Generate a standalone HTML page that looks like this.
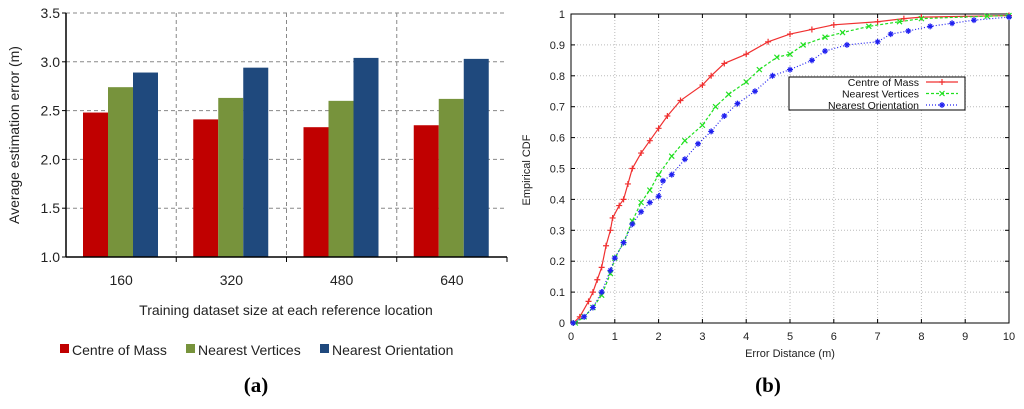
<!DOCTYPE html>
<html><head><meta charset="utf-8"><style>
body{margin:0;background:#fff;width:1024px;height:409px;overflow:hidden}
svg{display:block}
</style></head><body>
<svg width="1024" height="409" xmlns="http://www.w3.org/2000/svg">
<g id="left"></g>
<g id="right"></g>
<text x="256" y="392" text-anchor="middle" font-family="Liberation Serif, serif" font-weight="bold" font-size="21">(a)</text>
<text x="768" y="392" text-anchor="middle" font-family="Liberation Serif, serif" font-weight="bold" font-size="21">(b)</text>
</svg>
<script>
const barCategories=["160","320","480","640"];
const barCentre=[2.48,2.41,2.33,2.35];
const barVertices=[2.74,2.63,2.60,2.62];
const barOrientation=[2.89,2.94,3.04,3.03];
const barYTicks=["1.0","1.5","2.0","2.5","3.0","3.5"];

const cdfXTicks=[0,1,2,3,4,5,6,7,8,9,10];
const cdfYTicks=[0,0.1,0.2,0.3,0.4,0.5,0.6,0.7,0.8,0.9,1];
const centreX=[0.05,0.2,0.4,0.5,0.6,0.7,0.8,0.9,0.95,1.1,1.2,1.3,1.4,1.6,1.8,2.0,2.2,2.5,3.0,3.2,3.5,4.0,4.5,5.0,5.5,6.0,7.0,7.6,8.0,10];
const centreY=[0,0.02,0.07,0.1,0.14,0.18,0.25,0.3,0.34,0.38,0.4,0.45,0.5,0.55,0.59,0.63,0.67,0.72,0.77,0.8,0.84,0.87,0.91,0.935,0.95,0.965,0.975,0.985,0.99,0.995];
const vertX=[0.1,0.3,0.5,0.7,0.9,1.0,1.2,1.4,1.6,1.8,2.0,2.3,2.6,3.0,3.3,3.6,4.0,4.3,4.7,5.0,5.3,5.8,6.2,6.8,7.5,8.0,9.5,10];
const vertY=[0,0.02,0.05,0.09,0.16,0.21,0.26,0.33,0.39,0.43,0.48,0.54,0.59,0.64,0.7,0.74,0.78,0.82,0.86,0.87,0.9,0.925,0.94,0.96,0.975,0.985,0.993,0.995];
const orientX=[0.05,0.3,0.5,0.7,0.9,1.0,1.2,1.4,1.6,1.8,2.0,2.1,2.3,2.6,2.9,3.2,3.5,3.8,4.2,4.6,5.0,5.5,5.8,6.3,7.0,7.3,7.7,8.2,8.7,9.2,10];
const orientY=[0,0.02,0.05,0.1,0.17,0.21,0.26,0.32,0.36,0.39,0.41,0.46,0.48,0.53,0.58,0.62,0.67,0.71,0.75,0.8,0.82,0.85,0.88,0.9,0.91,0.935,0.945,0.96,0.97,0.98,0.99];

const NS="http://www.w3.org/2000/svg";
function mk(p,tag,a,txt){const e=document.createElementNS(NS,tag);for(const k in a)e.setAttribute(k,a[k]);if(txt!==undefined)e.textContent=txt;p.appendChild(e);return e;}
const SANS="Liberation Sans, DejaVu Sans, sans-serif";

// LEFT
const L=document.getElementById('left');
const lx0=66,lx1=507,ly0=257,ly1=13;
const ly=v=>ly0-(v-1)/(2.5)*(ly0-ly1);
const gw=(lx1-lx0)/4;
barYTicks.forEach((t,i)=>{const y=ly(parseFloat(t));
 if(i>0){const g=mk(L,'line',{x1:lx0,x2:lx1,y1:y,y2:y,stroke:'#888','stroke-dasharray':'4,3','stroke-width':1});
 }
 const tl=mk(L,'text',{x:lx0-6,y:y+5,'text-anchor':'end','font-family':SANS,'font-size':14,fill:'#222'},t);
 
 mk(L,'line',{x1:lx0-4,x2:lx0,y1:y,y2:y,stroke:'#000'});
});
for(let i=1;i<=4;i++){const x=lx0+gw*i;
 if(i<4){const g=mk(L,'line',{x1:x,x2:x,y1:ly1,y2:ly0,stroke:'#888','stroke-dasharray':'4,3'});}
 mk(L,'line',{x1:x,x2:x,y1:ly0,y2:ly0+5,stroke:'#000'});}
const series=[[barCentre,'#c00000','Centre of Mass'],[barVertices,'#77933c','Nearest Vertices'],[barOrientation,'#1f497d','Nearest Orientation']];
barCategories.forEach((c,i)=>{
 series.forEach((s,j)=>{const x=lx0+gw*i+17+j*25;const y=ly(s[0][i]);
  const r=mk(L,'rect',{x:x,y:y,width:25,height:ly0-y,fill:s[1]});
  });
 const t=mk(L,'text',{x:lx0+gw*i+gw/2,y:285,'text-anchor':'middle','font-family':SANS,'font-size':14,fill:'#222'},c);
 
});
mk(L,'line',{x1:lx0,x2:lx0,y1:ly1,y2:ly0,stroke:'#000','stroke-width':1.5});
mk(L,'line',{x1:lx0,x2:lx1,y1:ly0,y2:ly0,stroke:'#000','stroke-width':1.5});
let t=mk(L,'text',{x:286,y:315,'text-anchor':'middle','font-family':SANS,'font-size':14,fill:'#222'},'Training dataset size at each reference location');

t=mk(L,'text',{x:0,y:0,transform:'translate(19,135) rotate(-90)','text-anchor':'middle','font-family':SANS,'font-size':14,fill:'#222'},'Average estimation error (m)');

const legX=[60,186,320];
series.forEach((s,j)=>{const g=mk(L,'g',{});
 mk(g,'rect',{x:legX[j],y:344,width:9,height:9,fill:s[1]});
 mk(g,'text',{x:legX[j]+12,y:355,'font-family':SANS,'font-size':14,fill:'#222'},s[2]);});

// RIGHT
const R=document.getElementById('right');
const rx0=571,rx1=1009,ry0=323,ry1=14;
const rx=v=>rx0+v/10*(rx1-rx0), ry=v=>ry0-v*(ry0-ry1);
cdfXTicks.forEach(v=>{const x=rx(v);
 if(v>0&&v<10){const g=mk(R,'line',{x1:x,x2:x,y1:ry1,y2:ry0,stroke:'#bbb','stroke-dasharray':'1,2'});}
 mk(R,'line',{x1:x,x2:x,y1:ry0,y2:ry0-4,stroke:'#000'});mk(R,'line',{x1:x,x2:x,y1:ry1,y2:ry1+4,stroke:'#000'});
 const tl=mk(R,'text',{x:x,y:340,'text-anchor':'middle','font-family':SANS,'font-size':11,fill:'#222'},String(v));
 });
cdfYTicks.forEach(v=>{const y=ry(v);
 if(v>0&&v<1){const g=mk(R,'line',{x1:rx0,x2:rx1,y1:y,y2:y,stroke:'#bbb','stroke-dasharray':'1,2'});}
 mk(R,'line',{x1:rx0,x2:rx0+4,y1:y,y2:y,stroke:'#000'});mk(R,'line',{x1:rx1,x2:rx1-4,y1:y,y2:y,stroke:'#000'});
 const tl=mk(R,'text',{x:rx0-6,y:y+4,'text-anchor':'end','font-family':SANS,'font-size':11,fill:'#222'},String(v));
 });
mk(R,'rect',{x:rx0,y:ry1,width:rx1-rx0,height:ry0-ry1,fill:'none',stroke:'#000'});
const cs=[[centreX,centreY,'#f03030','none','+'],[vertX,vertY,'#20e020','3,2','x'],[orientX,orientY,'#2020f0','1,2','*']];
const names=['centre-of-mass-line','nearest-vertices-line','nearest-orientation-line'];
function marker(p,X,Y,kind,col){
 return mk(p,'path',{d:kind=='+'?`M${X-3},${Y}h6M${X},${Y-3}v6`:kind=='x'?`M${X-2.5},${Y-2.5}l5,5M${X-2.5},${Y+2.5}l5,-5`:`M${X-3},${Y}h6M${X},${Y-3}v6M${X-2},${Y-2}l4,4M${X-2},${Y+2}l4,-4`,stroke:col,'stroke-width':1.2,fill:'none'});}
cs.forEach((s,k)=>{const pts=s[0].map((x,i)=>rx(x)+','+ry(s[1][i])).join(' ');
 const pl=mk(R,'polyline',{points:pts,fill:'none',stroke:s[2],'stroke-width':1.2,'stroke-dasharray':s[3]});
 
 s[0].forEach((x,i)=>{
  const m=marker(R,rx(x),ry(s[1][i]),s[4],s[2]);
  });});
const lg=mk(R,'g',{});
mk(lg,'rect',{x:789,y:77,width:176,height:33,fill:'#fff',stroke:'#000'});
['Centre of Mass','Nearest Vertices','Nearest Orientation'].forEach((n,k)=>{const y=82+k*11.5;
 const e=mk(lg,'g',{});
 mk(e,'text',{x:919,y:y+4,'text-anchor':'end','font-family':SANS,'font-size':10.5,fill:'#111'},n);
 mk(e,'line',{x1:926,x2:958,y1:y,y2:y,stroke:cs[k][2],'stroke-dasharray':cs[k][3],'stroke-width':1.2});
 marker(e,942,y,cs[k][4],cs[k][2]);});
t=mk(R,'text',{x:790,y:357,'text-anchor':'middle','font-family':SANS,'font-size':11,fill:'#222'},'Error Distance (m)');

t=mk(R,'text',{x:0,y:0,transform:'translate(530,170) rotate(-90)','text-anchor':'middle','font-family':SANS,'font-size':11,fill:'#222'},'Empirical CDF');

</script>
</body></html>
